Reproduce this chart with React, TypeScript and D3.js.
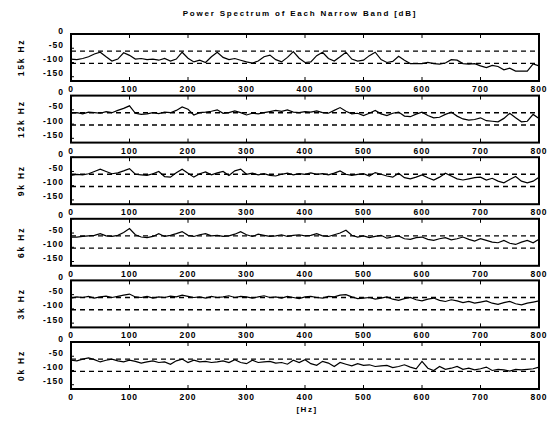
import React from "react";
import * as d3 from "d3";

const bandLabels = ["15k Hz", "12k Hz", "9k Hz", "6k Hz", "3k Hz", "0k Hz"];
const xTicks = [0, 100, 200, 300, 400, 500, 600, 700, 800];
const yTicks = [0, -50, -100, -150];
const refLevels = [-60, -103];
const freqStep = 10;

const band15 = [-88,-90,-86,-80,-70,-64,-80,-95,-88,-66,-75,-88,-86,-90,-88,-92,-86,-95,-88,-64,-85,-98,-92,-100,-80,-64,-82,-90,-86,-92,-98,-102,-95,-80,-74,-90,-98,-82,-62,-85,-100,-98,-76,-64,-86,-95,-80,-64,-88,-95,-92,-76,-64,-90,-100,-96,-78,-92,-104,-104,-104,-100,-104,-106,-102,-90,-92,-104,-106,-104,-112,-118,-110,-114,-126,-120,-130,-130,-130,-105,-112];
const band12 = [-62,-60,-64,-58,-60,-62,-56,-60,-52,-45,-36,-62,-66,-64,-60,-63,-58,-60,-52,-40,-48,-68,-60,-58,-55,-50,-62,-60,-54,-60,-68,-62,-64,-60,-56,-52,-55,-50,-58,-60,-56,-58,-54,-60,-62,-52,-42,-55,-64,-62,-70,-62,-52,-64,-70,-62,-58,-72,-74,-65,-58,-70,-78,-76,-66,-58,-72,-82,-86,-84,-78,-88,-90,-92,-80,-62,-78,-92,-90,-66,-80];
const band9 = [-64,-60,-62,-58,-50,-42,-50,-58,-55,-48,-40,-60,-62,-64,-58,-50,-68,-70,-55,-42,-56,-70,-58,-52,-62,-55,-50,-64,-48,-42,-60,-56,-62,-58,-64,-66,-60,-56,-62,-58,-60,-55,-60,-58,-62,-56,-48,-60,-64,-60,-58,-66,-54,-60,-66,-70,-56,-72,-76,-70,-62,-72,-80,-70,-56,-66,-76,-80,-76,-72,-70,-80,-74,-84,-90,-78,-68,-84,-90,-84,-70];
const band6 = [-64,-64,-62,-60,-58,-52,-60,-62,-58,-48,-34,-56,-64,-66,-62,-52,-62,-58,-52,-45,-58,-62,-56,-52,-60,-58,-62,-60,-54,-45,-56,-62,-54,-58,-62,-60,-56,-62,-58,-56,-60,-58,-52,-60,-62,-56,-50,-40,-58,-64,-60,-66,-62,-58,-68,-64,-60,-70,-72,-66,-64,-72,-76,-70,-66,-74,-70,-64,-72,-78,-70,-76,-82,-84,-76,-86,-90,-82,-76,-84,-72];
const band3 = [-62,-58,-60,-56,-62,-58,-55,-60,-56,-52,-48,-58,-60,-56,-62,-58,-60,-55,-58,-52,-56,-60,-58,-62,-56,-60,-58,-54,-60,-56,-58,-62,-58,-54,-60,-58,-62,-56,-60,-64,-58,-56,-60,-62,-56,-58,-52,-50,-58,-64,-62,-60,-66,-62,-58,-66,-70,-64,-60,-68,-72,-66,-62,-70,-74,-68,-72,-78,-74,-80,-76,-72,-80,-84,-78,-74,-82,-86,-80,-76,-72];
const band0 = [-64,-66,-60,-56,-62,-70,-64,-60,-66,-70,-64,-68,-74,-70,-66,-72,-70,-78,-66,-60,-72,-64,-70,-68,-72,-70,-66,-72,-62,-72,-76,-64,-72,-70,-68,-74,-72,-78,-64,-72,-62,-76,-82,-68,-74,-86,-72,-78,-84,-76,-82,-80,-86,-84,-82,-90,-86,-80,-88,-94,-68,-92,-100,-86,-96,-92,-86,-96,-92,-98,-94,-88,-100,-96,-98,-102,-96,-98,-96,-94,-88];

const bands = [band15, band12, band9, band6, band3, band0];

const W = 548;
const H = 422;
const plotLeft = 71;
const plotRight = 539;
const firstTop = 34;
const panelStep = 61.6;
const panelH = 47;

const FONT = "'Liberation Sans', Arial, sans-serif";

export default function App() {
  const x = d3.scaleLinear().domain([0, 800]).range([plotLeft, plotRight]);
  return (
    <svg width={W} height={H} style={{ position: "absolute", left: 0, top: 0, background: "#fff" }}>
      <rect x={0} y={0} width={W} height={H} fill="#fff" />
      <text x={(plotLeft + plotRight) / 2 - 5} y={16} textAnchor="middle" fontFamily={FONT} fontSize={8} fontWeight="bold" letterSpacing={1.8}>
        Power Spectrum of Each Narrow Band [dB]
      </text>
      {bands.map((vals, i) => {
        const top = firstTop + i * panelStep;
        const bottom = top + panelH;
        const y = d3.scaleLinear().domain([-165, 0]).range([bottom, top]);
        const line = d3
          .line<number>()
          .x((_, k) => x(k * freqStep))
          .y((v) => y(v))
          .curve(d3.curveLinear);
        return (
          <g key={i}>
            {refLevels.map((r) => (
              <line key={r} x1={plotLeft} x2={plotRight} y1={y(r)} y2={y(r)} stroke="#000" strokeWidth={1.4} strokeDasharray="5,4" />
            ))}
            <path d={line(vals) || ""} fill="none" stroke="#000" strokeWidth={1.2} />
            {xTicks.map((t) => (
              <g key={t}>
                <line x1={x(t)} x2={x(t)} y1={top} y2={top + 4} stroke="#000" strokeWidth={1} />
                <line x1={x(t)} x2={x(t)} y1={bottom} y2={bottom - 4} stroke="#000" strokeWidth={1} />
                <text x={x(t)} y={bottom + 11} textAnchor="middle" fontFamily={FONT} fontSize={8.5} fontWeight="bold" letterSpacing={1}>
                  {t}
                </text>
              </g>
            ))}
            {yTicks.map((t) => (
              <g key={t}>
                <line x1={plotLeft} x2={plotLeft + 3} y1={y(t)} y2={y(t)} stroke="#000" strokeWidth={1} />
                <text x={64} y={y(t) - 0.5} textAnchor="end" fontFamily={FONT} fontSize={8.5} fontWeight="bold" letterSpacing={1}>
                  {t}
                </text>
              </g>
            ))}
            <rect x={plotLeft} y={top} width={plotRight - plotLeft} height={panelH} fill="none" stroke="#000" strokeWidth={2} />
            <text
              transform={`translate(24,${(top + bottom) / 2}) rotate(-90)`}
              textAnchor="middle"
              fontFamily={FONT}
              fontSize={8.5}
              fontWeight="bold"
              letterSpacing={1.8}
            >
              {bandLabels[i]}
            </text>
          </g>
        );
      })}
      <text x={(plotLeft + plotRight) / 2 + 2} y={412} textAnchor="middle" fontFamily={FONT} fontSize={8} fontWeight="bold" letterSpacing={1.5}>
        [Hz]
      </text>
    </svg>
  );
}
